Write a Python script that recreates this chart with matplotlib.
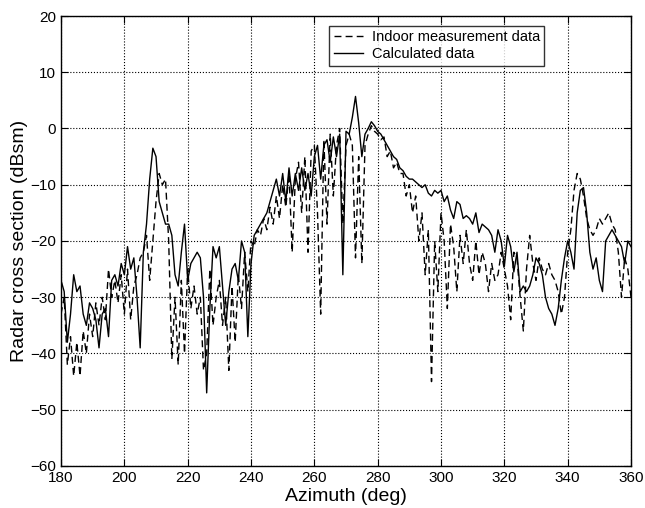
import numpy as np
import matplotlib
matplotlib.use("Agg")
import matplotlib.pyplot as plt

plt.rcParams['font.family'] = ['Liberation Sans', 'DejaVu Sans']

azimuth = list(range(180, 361))

calculated = [
    -27, -29, -38, -33, -26, -29, -28, -33, -35, -31,   # 180-189
    -32, -34, -39, -33, -32, -37, -27, -26, -28, -24,   # 190-199
    -26, -21, -25, -23, -30, -39, -22, -17, -9, -3.5,   # 200-209
    -5, -13, -15, -17, -17, -19, -26, -28, -22, -17,    # 210-219
    -27, -24, -23, -22, -23, -30, -47, -32, -21, -23,   # 220-229
    -21, -28, -35, -29, -25, -24, -27, -20, -22, -37,   # 230-239
    -24, -19, -18, -17, -16, -15, -13, -11, -9, -12,    # 240-249
    -8, -13, -7, -12, -8, -11, -7, -11, -8, -12,        # 250-259
    -5, -3, -9, -3, -2, -6, -1.5, -5, -1, -26,          # 260-269
    -0.5, -1, 2, 5.7, 1, -5, -1, 0, 1.2, 0.5,           # 270-279
    -0.5, -1, -2, -3, -4, -5, -5.5, -7, -7.5, -8.5,     # 280-289
    -9, -9, -9.5, -10, -10.5, -10, -11.5, -12, -11, -11.5,  # 290-299
    -11, -13, -12, -14.5, -16, -13, -13.5, -16, -15.5, -16,  # 300-309
    -17, -15, -18.5, -17, -17.5, -18, -19, -22, -18, -20,    # 310-319
    -24.5, -19, -21, -25.5, -22, -29, -28, -29, -28, -26,    # 320-329
    -23, -24, -26, -30, -32, -33, -35, -32, -27, -23,        # 330-339
    -20, -22, -25, -15, -11, -10.5, -15, -22, -25, -23,      # 340-349
    -27, -29, -20, -19, -18, -19, -20, -21, -24, -20,        # 350-359
    -21,                                                     # 360
]

measured = [
    -33, -30, -42, -37, -44, -38, -44, -36, -40, -33,   # 180-189
    -37, -31, -35, -30, -34, -25, -30, -27, -31, -26,   # 190-199
    -33, -25, -34, -28, -26, -23, -22, -19, -27, -20,   # 200-209
    -13, -8, -10, -9, -20, -41, -30, -42, -27, -40,     # 210-219
    -25, -32, -28, -33, -30, -43, -40, -25, -35, -30,   # 220-229
    -27, -35, -30, -43, -28, -38, -26, -32, -22, -29,   # 230-239
    -20, -21, -18, -19, -16, -18, -14, -17, -12, -16,   # 240-249
    -10, -14, -8, -22, -9, -6, -15, -5, -22, -4,        # 250-259
    -3, -15, -33, -2, -17, -1, -12, -3, 0, -17,         # 260-269
    -3, -1, -3, -23, -5, -24, -3, -1, 0.5, -0.5,        # 270-279
    -1, -2, -1.5, -5, -4, -7, -6, -8, -8, -12,          # 280-289
    -10, -15, -12, -20, -15, -26, -18, -45, -20, -29,   # 290-299
    -15, -20, -32, -17, -21, -29, -19, -24, -18, -24,   # 300-309
    -27, -20, -26, -22, -24, -29, -24, -27, -26, -22,   # 310-319
    -25, -28, -34, -22, -23, -30, -36, -25, -19, -24,   # 320-329
    -27, -23, -25, -26, -24, -26, -27, -29, -33, -30,   # 330-339
    -22, -18, -11, -8, -9, -12, -16, -18, -19, -18,     # 340-349
    -16, -17, -16, -15, -17, -18, -22, -30, -23, -25,   # 350-359
    -30,                                                # 360
]

x_ticks = list(range(180, 361, 20))
y_ticks = list(range(-60, 21, 10))

fig = plt.figure(figsize=(6.45, 5.08), dpi=100)
ax = fig.add_axes([0.0946, 0.0827, 0.8837, 0.8858])

ax.plot(azimuth, measured, color='black', linestyle=(0, (5, 3)), linewidth=1.0,
        label='Indoor measurement data')
ax.plot(azimuth, calculated, color='black', linestyle='-', linewidth=1.0,
        label='Calculated data')

ax.set_xlim(180, 360)
ax.set_ylim(-60, 20)
ax.set_xticks(x_ticks)
ax.set_yticks(y_ticks)
ax.tick_params(direction='in', top=True, right=True, labelsize=11, length=5)
ax.grid(True, linestyle=':', color='black', linewidth=0.8)
for s in ax.spines.values():
    s.set_linewidth(1.0)

ax.set_xlabel('Azimuth (deg)', fontsize=14, labelpad=2)
ax.set_ylabel('Radar cross section (dBsm)', fontsize=14, labelpad=2)

leg = ax.legend(loc='upper right', bbox_to_anchor=(0.848, 0.978), fontsize=10.5,
                frameon=True, fancybox=False, edgecolor='black',
                borderaxespad=0.0, handlelength=2.0, borderpad=0.3,
                labelspacing=0.2, handletextpad=0.6)
leg.get_frame().set_linewidth(1.0)

fig.savefig('out.png', dpi=100)
